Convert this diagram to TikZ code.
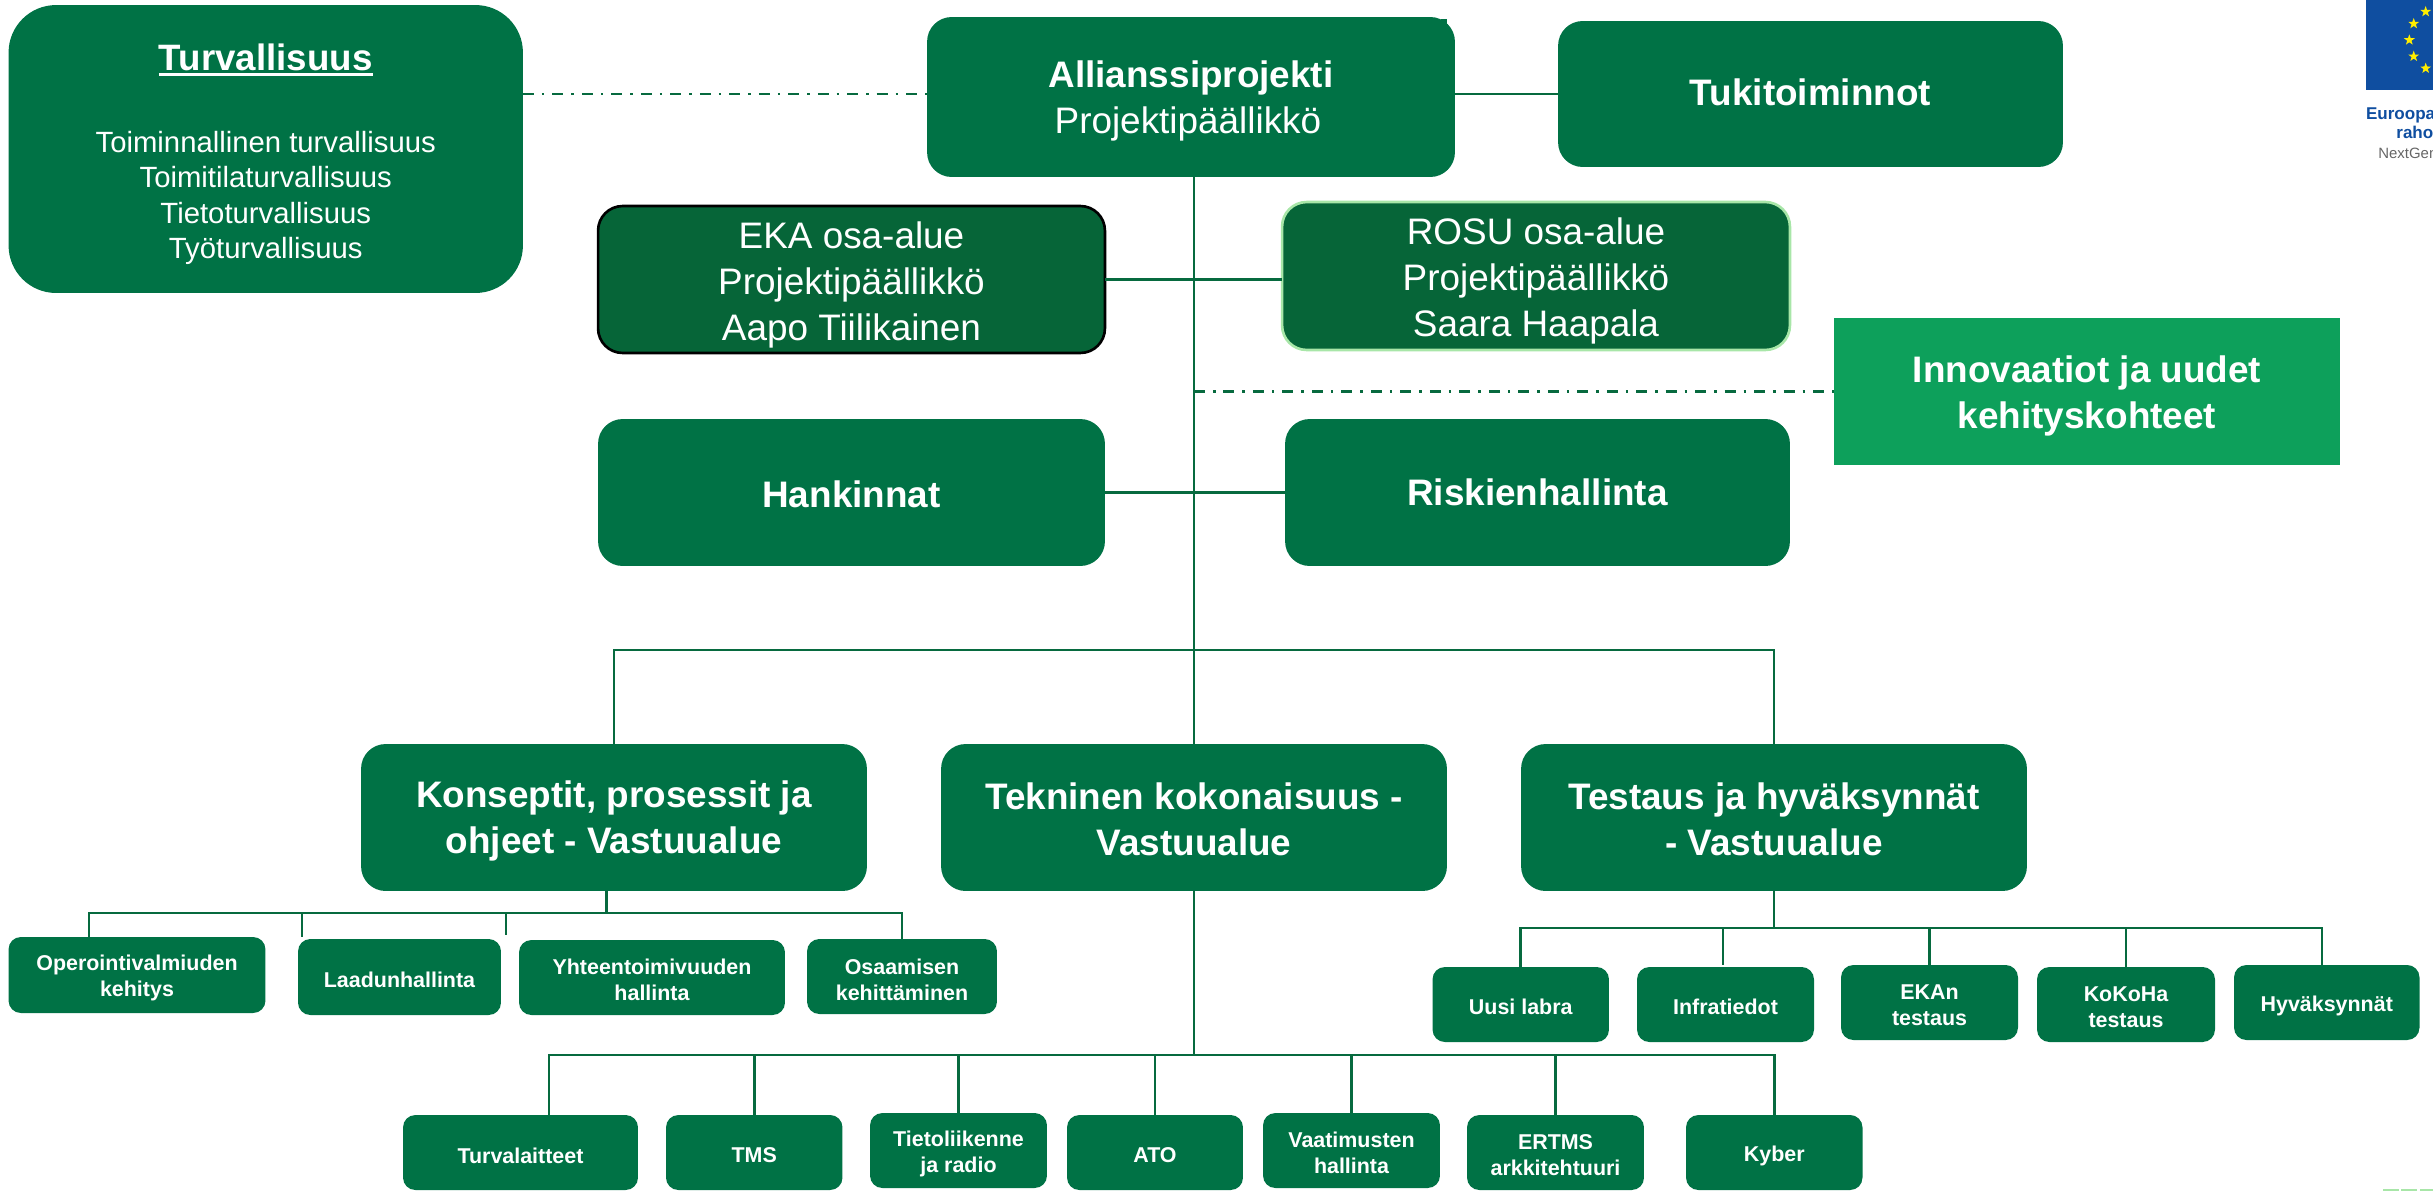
\documentclass[tikz,border=0pt]{standalone}
\usepackage{fontspec}
\setmainfont{Liberation Sans}
\usetikzlibrary{shapes.geometric}
\definecolor{gmain}{HTML}{007245}
\definecolor{gdark}{HTML}{066538}
\definecolor{glight}{HTML}{0DA05B}
\definecolor{gedge}{HTML}{A8E6A8}
\definecolor{line}{HTML}{076A3F}
\definecolor{eublue}{HTML}{0F4EA0}
\definecolor{euyellow}{HTML}{FFED00}
\definecolor{eugrey}{HTML}{666666}
\tikzset{
  base/.style={fill=gmain,text=white,inner sep=0pt,outer sep=0pt},
  hugebox/.style={base,rounded corners=27pt},
  bigbox/.style={base,rounded corners=14pt},
  smallbox/.style={base,rounded corners=7pt},
  sharpbox/.style={base,fill=glight},
  darkbox/.style={bigbox,fill=gdark,line width=1.5pt},
  lbl/.style={text=white,align=center,inner sep=0pt},
  big/.style={lbl,font=\fontsize{21}{26.2}\selectfont},
  mid/.style={lbl,font=\fontsize{16.67}{20.2}\selectfont},
  tiny/.style={lbl,font=\fontsize{12.2}{14.8}\selectfont\bfseries},
  conn/.style={draw=line,line width=1.5pt},
  chain/.style={draw=line,line width=1.5pt,dash pattern=on 6.26pt off 4.55pt on 1.42pt off 4.55pt},
  eutext/.style={anchor=base west,inner sep=0pt}
}
% \mk{text offset px}{box style}{name}{x0}{x1}{y0}{y1}{label style}{text}
\newcommand{\mk}[9]{\node[#2,minimum width={(#5-#4)*0.569pt},minimum height={(#7-#6)*0.569pt}] (#3) at ({(#4+#5)/2},{-(#6+#7)/2}) {};\node[#8,yshift={-#1*0.569pt}] (#3t) at (#3.center) {#9};}
\newcommand{\ulbox}[1]{\setbox0\hbox{#1}\rlap{\rule[-3.6pt]{\wd0}{1.8pt}}\box0}
\begin{document}
\begin{tikzpicture}[x=0.02cm,y=0.02cm]
\useasboundingbox (0,0) rectangle (2433,-1191);
\clip (0,0) rectangle (2433,-1191);
\mk{5}{hugebox}{turv}{8.5}{523}{5}{293}{mid}{{\fontsize{20.9}{20.2}\selectfont\bfseries\ulbox{Turvallisuus}}\\[26.5pt]Toiminnallinen turvallisuus\\Toimitilaturvallisuus\\Tietoturvallisuus\\Työturvallisuus}
\mk{4}{bigbox}{alli}{927}{1455}{17}{177}{big}{\textbf{Allianssiprojekti}\\Projektipäällikkö\kern 3.5pt}
\fill[gmain] (1441,-19) rectangle (1447,-24);
\mk{-1.5}{bigbox}{tuki}{1558}{2063}{21}{167}{big}{\textbf{Tukitoiminnot}}
\mk{5}{darkbox,draw=black}{eka}{598}{1105}{206}{353}{big}{EKA osa-alue\\Projektipäällikkö\\Aapo Tiilikainen}
\mk{5}{darkbox,draw=gedge}{rosu}{1282}{1790}{202}{350}{big}{ROSU osa-alue\\Projektipäällikkö\\Saara Haapala}
\mk{4}{sharpbox}{inno}{1834}{2340}{318}{465}{big}{\textbf{Innovaatiot ja uudet}\\\textbf{kehityskohteet}}
\mk{1.5}{bigbox}{hank}{598}{1105}{419}{566}{big}{\textbf{Hankinnat}}
\mk{0}{bigbox}{risk}{1285}{1790}{419}{566}{big}{\textbf{Riskienhallinta}}
% level 1
\mk{3}{bigbox}{kon}{361}{867}{744}{891}{big}{\textbf{Konseptit, prosessit ja}\\\textbf{ohjeet - Vastuualue}}
\mk{2}{bigbox}{tek}{941}{1447}{744}{891}{big}{\textbf{Tekninen kokonaisuus -}\\\textbf{Vastuualue}}
\mk{2}{bigbox}{tes}{1521}{2027}{744}{891}{big}{\textbf{Testaus ja hyväksynnät}\\\textbf{- Vastuualue}}
% left subtree
\mk{3}{smallbox}{oper}{8.5}{265.5}{937}{1013}{tiny}{Operointivalmiuden\\kehitys}
\mk{3}{smallbox}{laad}{298}{501}{939}{1015}{tiny}{Laadunhallinta}
\mk{2}{smallbox}{yht}{519}{785}{940}{1015}{tiny}{Yhteentoimivuuden\\hallinta}
\mk{3}{smallbox}{osa}{807}{997}{939}{1014}{tiny}{Osaamisen\\kehittäminen}
% bottom row
\mk{3}{smallbox}{turva}{403}{638}{1115}{1190}{tiny}{Turvalaitteet}
\mk{3}{smallbox}{tms}{666}{842.5}{1115}{1190}{tiny}{TMS}
\mk{3}{smallbox}{tieto}{870}{1047}{1113}{1188}{tiny}{Tietoliikenne\\ja radio}
\mk{3}{smallbox}{ato}{1067}{1243}{1115}{1190}{tiny}{ATO}
\mk{2}{smallbox}{vaat}{1263}{1440}{1113}{1188}{tiny}{Vaatimusten\\hallinta}
\mk{3}{smallbox}{ertms}{1467}{1644}{1115}{1190}{tiny}{ERTMS\\arkkitehtuuri}
\mk{3}{smallbox}{kyb}{1686}{1862.5}{1115}{1190}{tiny}{Kyber}
% right subtree
\mk{2}{smallbox}{uusi}{1432.5}{1609}{967}{1042}{tiny}{Uusi labra}
\mk{2}{smallbox}{inf}{1637}{1814}{967}{1042}{tiny}{Infratiedot}
\mk{3}{smallbox}{ekan}{1841}{2018}{965}{1040}{tiny}{EKAn\\testaus}
\mk{3}{smallbox}{koko}{2037}{2215}{967}{1042}{tiny}{KoKoHa\\testaus}
\mk{3}{smallbox}{hyv}{2234}{2419.5}{965}{1040}{tiny}{Hyväksynnät}
% helper coordinates
\coordinate (bar1) at (1194,-650);
\coordinate (bar2) at (1194,-1055);
\coordinate (ks) at (606.5,-913);
\coordinate (ts) at (1774,-928);
\coordinate (dop) at (89,-937);
\coordinate (dla) at (302,-937);
\coordinate (dyh) at (506,-935);
\coordinate (dtu) at (549,-1115);
\coordinate (din) at (1723,-965);
\coordinate (dhy) at (2322,-965);
% connectors
\draw[chain] (turv.east |- tuki.west) -- (alli.west |- tuki.west);
\draw[conn] (alli.east |- tuki.west) -- (tuki.west);
\draw[conn] (alli.south -| tek.north) -- (tek.north);
\draw[conn] (eka.east) -- (rosu.west |- eka.east);
\draw[chain] (tek.north |- inno.west) -- (inno.west);
\draw[conn] (hank.east) -- (risk.west);
\draw[conn] (kon.north) |- (bar1) -| (tes.north);
\draw[conn] (kon.south -| ks) -- (ks);
\draw[conn] (ks) -| (dop);
\draw[conn] (ks) -| (dla);
\draw[conn] (ks) -| (dyh);
\draw[conn] (ks) -| (osa.north);
\draw[conn] (tek.south) -- (bar2);
\draw[conn] (bar2) -| (dtu);
\draw[conn] (bar2) -| (tms.north);
\draw[conn] (bar2) -| (tieto.north);
\draw[conn] (bar2) -| (ato.north);
\draw[conn] (bar2) -| (vaat.north);
\draw[conn] (bar2) -| (ertms.north);
\draw[conn] (bar2) -| (kyb.north);
\draw[conn] (tes.south) -- (ts);
\draw[conn] (ts) -| (uusi.north);
\draw[conn] (ts) -| (din);
\draw[conn] (ts) -| (ekan.north);
\draw[conn] (ts) -| (koko.north);
\draw[conn] (ts) -| (dhy);
% EU emblem, cut by the page edge
\fill[eublue] (2366,10) rectangle (2516,-90);
\foreach \a in {120,150,180,210,240}
  \node[star,star points=5,star point ratio=2.5,fill=euyellow,inner sep=0pt,minimum size=6.5pt] (s\a) at ({2442+32.7*cos(\a)},{-40+32.7*sin(\a)}) {};
\node[eutext,text=eublue,font=\fontsize{9.7}{11}\selectfont\bfseries] (eu1) at (2365.7,-119) {Euroopa};
\node[eutext,text=eublue,font=\fontsize{9.7}{11}\selectfont\bfseries] (eu2) at (2396,-138) {raho};
\node[eutext,text=eugrey,font=\fontsize{8.5}{10}\selectfont] (eu3) at (2378,-158) {NextGen};
% stray mark at the lower right edge
\draw[gedge,line width=1.5pt,dash pattern=on 9pt off 1.5pt] (2383,-1190) -- (2433,-1190);
\end{tikzpicture}
\end{document}
